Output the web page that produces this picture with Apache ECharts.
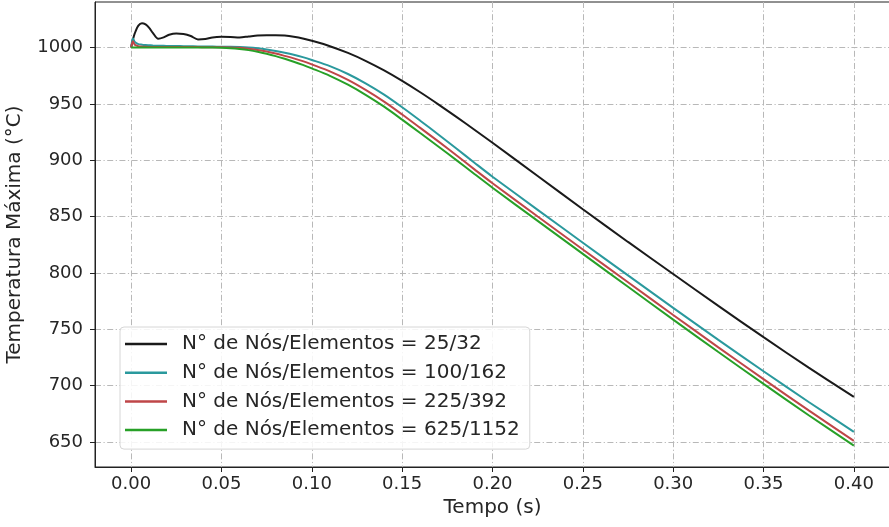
<!DOCTYPE html>
<html><head><meta charset="utf-8">
<script src="https://cdn.jsdelivr.net/npm/echarts@6/dist/echarts.min.js"></script>
<style>html,body{margin:0;padding:0;background:#fff}#c{width:889px;height:527px}</style>
</head><body><div id="c"></div>
<script>
const seriesNames = ['N° de Nós/Elementos = 25/32','N° de Nós/Elementos = 100/162','N° de Nós/Elementos = 225/392','N° de Nós/Elementos = 625/1152'];
const time = [0,0.001,0.002,0.004,0.006,0.008,0.010,0.012,0.015,0.018,0.021,0.025,0.029,0.033,0.037,0.041,0.045,0.05,0.055,0.06,0.065,0.07,0.075,0.08,0.085,0.09,0.095,0.10,0.11,0.12,0.13,0.14,0.15,0.16,0.17,0.18,0.19,0.20,0.225,0.25,0.275,0.30,0.325,0.35,0.375,0.40];
const temp25 = [1000,1007,1012.5,1019.5,1021.6,1020.5,1017.5,1013,1007.8,1009,1011.3,1012.4,1012,1010.2,1007.2,1007.6,1009,1009.5,1009.4,1009,1009.8,1010.6,1011,1011,1010.6,1009.6,1008.1,1006,1001.2,995.2,988,979.7,970.4,960.3,949.6,938.5,927.1,915.5,886,856.5,827.5,799,770.8,743,716,690];
const temp100 = [1000,1008,1005,1003,1002.5,1002.2,1002,1001.8,1001.6,1001.5,1001.4,1001.3,1001.2,1001.1,1001,1001,1000.9,1000.7,1000.6,1000.4,1000,999.3,998.3,997,995.4,993.6,991.5,989,983.5,976.5,968,958.2,947,935.1,922.9,910.4,897.8,885.4,856,826.8,797.8,769,740.6,712.8,685.5,659];
const temp225 = [1000,1005.5,1002.5,1001.2,1000.8,1000.6,1000.5,1000.5,1000.5,1000.5,1000.4,1000.4,1000.4,1000.4,1000.4,1000.3,1000.3,1000.3,1000.1,999.7,999,997.9,996.5,994.7,992.6,990.4,987.9,985,978.9,971.3,962.2,952,940.6,928.7,916.7,904.4,891.9,879.6,850.1,820.8,791.7,762.7,734,705.8,678,651];
const temp625 = [1000,1000,1000,1000,1000,1000,1000,1000,1000,1000,1000,1000,1000,1000,1000,1000,1000,999.8,999.4,998.7,997.7,996.3,994.5,992.4,990,987.4,984.6,981.5,974.9,967,957.8,947.5,936,924.1,912.2,900.1,887.8,875.6,846.2,816.9,787.7,758.6,729.8,701.5,673.7,646.8];
const xTicks = [0,0.05,0.10,0.15,0.20,0.25,0.30,0.35,0.40];
const yTicks = [650,700,750,800,850,900,950,1000];
const colors = ['#1a1a1a','#2a999d','#bf4648','#27a027'];

const chart = echarts.init(document.getElementById('c'), null, {renderer:'canvas'});
const font = 'DejaVu Sans';
const gridLine = {show:true, lineStyle:{color:'#b8b8b8', width:1, type:[6,2.5,1.2,2.5]}};
const allVals = [temp25,temp100,temp225,temp625];
chart.setOption({
  animation:false,
  backgroundColor:'#fff',
  grid:{left:95, top:2, width:795, height:465, containLabel:false, outerBoundsMode:'none', show:true, borderColor:'#222', borderWidth:1, backgroundColor:'transparent'},
  legend:{
    orient:'vertical', left:120, top:327, icon:'rect', itemWidth:42, itemHeight:2.5, itemGap:8.7,
    padding:[7,10,9,5],
    backgroundColor:'rgba(255,255,255,0.85)', borderColor:'#d6d6d6', borderWidth:1, borderRadius:4,
    textStyle:{fontFamily:font, fontSize:20, color:'#262626', lineHeight:20, padding:[0,0,0,10]},
    data:seriesNames
  },
  xAxis:{
    type:'value', min:-0.02, max:0.42,
    name:'Tempo (s)', nameLocation:'middle', nameGap:30,
    nameTextStyle:{fontFamily:font, fontSize:20, color:'#262626'},
    axisLine:{show:true, onZero:false, lineStyle:{color:'#222'}},
    axisTick:{show:true, length:5, customValues:xTicks, lineStyle:{color:'#222'}},
    axisLabel:{customValues:xTicks, fontFamily:font, fontSize:18, color:'#262626', margin:8, formatter:v=>v.toFixed(2)},
    splitLine:gridLine
  },
  yAxis:{
    type:'value', min:627.8, max:1040.4,
    name:'Temperatura Máxima (°C)', nameLocation:'middle', nameGap:70,
    nameTextStyle:{fontFamily:font, fontSize:20, color:'#262626'},
    axisLine:{show:true, onZero:false, lineStyle:{color:'#222'}},
    axisTick:{show:true, length:5, customValues:yTicks, lineStyle:{color:'#222'}},
    axisLabel:{customValues:yTicks, fontFamily:font, fontSize:18, color:'#262626', margin:12, formatter:v=>String(v)},
    splitLine:gridLine
  },
  series: seriesNames.map((n,i)=>({
    name:n, type:'line', showSymbol:false, smooth:0.3, clip:true,
    lineStyle:{color:colors[i], width:2},
    itemStyle:{color:colors[i]},
    data: time.map((t,k)=>[t, allVals[i][k]])
  }))
});
</script></body></html>
